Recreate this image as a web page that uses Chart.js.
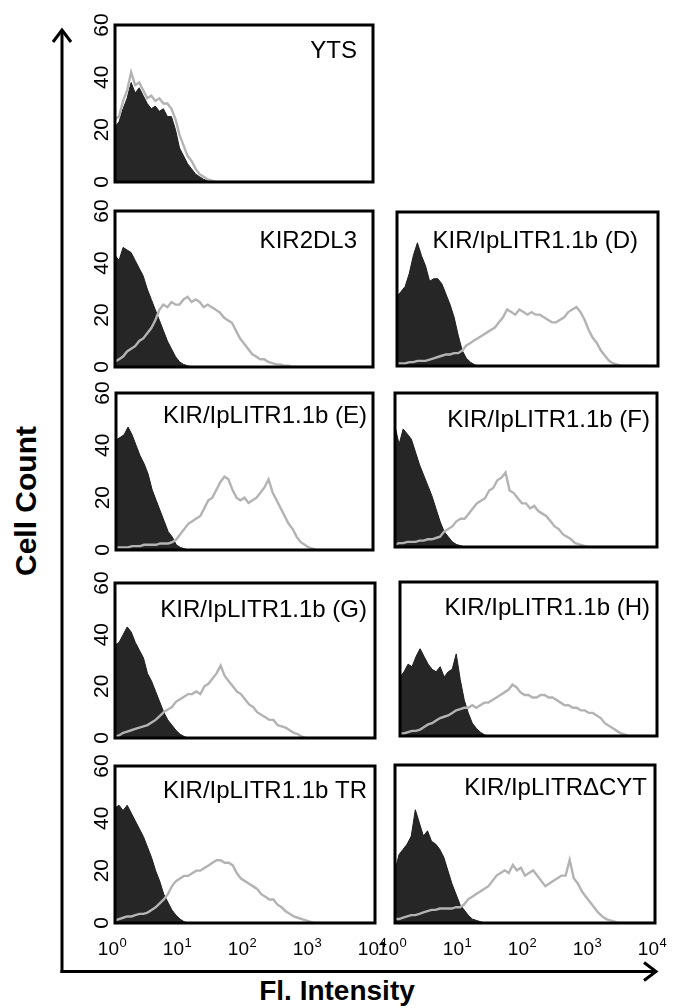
<!DOCTYPE html>
<html>
<head>
<meta charset="utf-8">
<script src="https://cdn.jsdelivr.net/npm/chart.js@4.4.1/dist/chart.umd.min.js"></script>
<style>
  html, body { margin: 0; padding: 0; background: #fff; }
  #page { position: relative; width: 673px; height: 1008px; overflow: hidden; }
  #page canvas, #page svg { position: absolute; left: 0; top: 0; }
</style>
</head>
<body>
<div id="page">
  <svg width="673" height="1008" font-family="'Liberation Sans', Arial, Helvetica, sans-serif">
    <line x1="62" y1="973" x2="62" y2="30" stroke="#000" stroke-width="3"/>
    <polyline points="53,42 62,30 71,42" fill="none" stroke="#000" stroke-width="3"/>
    <line x1="60.5" y1="971.5" x2="656" y2="971.5" stroke="#000" stroke-width="3"/>
    <polyline points="644,962.5 656,971.5 644,980.5" fill="none" stroke="#000" stroke-width="3"/>
    <text transform="translate(36,501) rotate(-90)" text-anchor="middle" font-size="30" font-weight="bold">Cell Count</text>
    <text x="337" y="1000" text-anchor="middle" font-size="28" font-weight="bold">Fl. Intensity</text>
  </svg>
</div>
<script>
// canaux (256 canaux, 4 par classe) et graduations
const channels = [0, 4, 8, 12, 16, 20, 24, 28, 32, 36, 40, 44, 48, 52, 56, 60,
  64, 68, 72, 76, 80, 84, 88, 92, 96, 100, 104, 108, 112, 116, 120, 124,
  128, 132, 136, 140, 144, 148, 152, 156, 160, 164, 168, 172, 176, 180, 184, 188,
  192, 196, 200, 204, 208, 212, 216, 220, 224, 228, 232, 236, 240, 244, 248, 252];
const xTickValues = [0, 64, 128, 192, 256];
const xTickExps = ['0', '1', '2', '3', '4'];
const yTickValues = [0, 20, 40, 60];

const labels = ['YTS', 'KIR2DL3', 'KIR/IpLITR1.1b (D)', 'KIR/IpLITR1.1b (E)', 'KIR/IpLITR1.1b (F)',
  'KIR/IpLITR1.1b (G)', 'KIR/IpLITR1.1b (H)', 'KIR/IpLITR1.1b TR', 'KIR/IpLITR\u0394CYT'];

// histogrammes : contrôle (noir) et marquage (gris)
const ytsBlack = [21, 23, 28, 32, 38, 34, 36, 33, 30, 28, 29, 27, 28, 25, 25, 20,
  13, 10, 7, 5, 3, 2, 1, 0.5, 0, 0, 0, 0, 0, 0, 0, 0,
  0, 0, 0, 0, 0, 0, 0, 0, 0, 0, 0, 0, 0, 0, 0, 0,
  0, 0, 0, 0, 0, 0, 0, 0, 0, 0, 0, 0, 0, 0, 0, 0];
const ytsGrey = [24, 25, 31, 35, 42, 37, 38, 35, 32, 33, 31, 32, 30, 30, 28, 24,
  18, 14, 10, 8, 5, 3, 2, 1, 0.5, 0, 0, 0, 0, 0, 0, 0,
  0, 0, 0, 0, 0, 0, 0, 0, 0, 0, 0, 0, 0, 0, 0, 0,
  0, 0, 0, 0, 0, 0, 0, 0, 0, 0, 0, 0, 0, 0, 0, 0];

const kirBlack = [43, 41, 46, 45, 44, 41, 38, 35, 30, 26, 22, 18, 14, 10, 7, 4,
  2, 1, 0.5, 0, 0, 0, 0, 0, 0, 0, 0, 0, 0, 0, 0, 0,
  0, 0, 0, 0, 0, 0, 0, 0, 0, 0, 0, 0, 0, 0, 0, 0,
  0, 0, 0, 0, 0, 0, 0, 0, 0, 0, 0, 0, 0, 0, 0, 0];
const kirGrey = [2, 3, 4, 6, 7, 8, 10, 11, 13, 15, 18, 22, 24, 23, 25, 24,
  24, 26, 27, 25, 26, 25, 23, 24, 23, 22, 21, 19, 18, 17, 14, 11,
  9, 7, 5, 4, 3, 3, 2, 1.5, 1, 1, 0.5, 0.5, 0, 0, 0, 0,
  0, 0, 0, 0, 0, 0, 0, 0, 0, 0, 0, 0, 0, 0, 0, 0];

const dBlack = [27, 29, 31, 36, 43, 48, 43, 39, 33, 34, 34, 32, 28, 24, 19, 12,
  6, 3, 1.5, 0.5, 0, 0, 0, 0, 0, 0, 0, 0, 0, 0, 0, 0,
  0, 0, 0, 0, 0, 0, 0, 0, 0, 0, 0, 0, 0, 0, 0, 0,
  0, 0, 0, 0, 0, 0, 0, 0, 0, 0, 0, 0, 0, 0, 0, 0];
const dGrey = [1, 1, 1, 1.5, 1.5, 2, 2, 2, 2.5, 3, 3.5, 4, 4.5, 4.5, 5, 5,
  6, 8, 9, 10, 11, 12, 13, 14, 15, 17, 19, 22, 21, 20, 22, 21,
  20, 21, 20, 20, 19, 18, 17, 17, 18, 19, 21, 22, 23, 21, 18, 14,
  11, 9, 6, 4, 2, 1, 0.5, 0, 0, 0, 0, 0, 0, 0, 0, 0];

const eBlack = [42, 43, 44, 47, 44, 40, 36, 33, 29, 23, 19, 15, 11, 7, 5, 2,
  1, 0.5, 0, 0, 0, 0, 0, 0, 0, 0, 0, 0, 0, 0, 0, 0,
  0, 0, 0, 0, 0, 0, 0, 0, 0, 0, 0, 0, 0, 0, 0, 0,
  0, 0, 0, 0, 0, 0, 0, 0, 0, 0, 0, 0, 0, 0, 0, 0];
const eGrey = [1, 1, 1, 1, 1.5, 1.5, 1.5, 2, 2, 2, 2, 2.5, 2.5, 2.5, 3, 4,
  6, 8, 10, 11, 12, 13, 16, 19, 20, 23, 26, 28, 27, 23, 20, 19,
  20, 18, 19, 20, 22, 24, 27, 22, 19, 16, 13, 10, 8, 5, 3, 2,
  1, 0.5, 0, 0, 0, 0, 0, 0, 0, 0, 0, 0, 0, 0, 0, 0];

const fBlack = [47, 40, 46, 44, 42, 37, 32, 28, 24, 20, 15, 10, 6, 4, 2, 1,
  0.5, 0, 0, 0, 0, 0, 0, 0, 0, 0, 0, 0, 0, 0, 0, 0,
  0, 0, 0, 0, 0, 0, 0, 0, 0, 0, 0, 0, 0, 0, 0, 0,
  0, 0, 0, 0, 0, 0, 0, 0, 0, 0, 0, 0, 0, 0, 0, 0];
const fGrey = [1, 1.5, 1.5, 2, 2, 2, 2.5, 2.5, 3, 3, 3.5, 4, 6, 7, 8, 10,
  11, 11, 13, 15, 17, 18, 19, 22, 23, 26, 27, 29, 22, 21, 19, 17,
  17, 15, 16, 14, 13, 12, 10, 8, 7, 5, 4, 3, 1.5, 1, 0.5, 0,
  0, 0, 0, 0, 0, 0, 0, 0, 0, 0, 0, 0, 0, 0, 0, 0];

const gBlack = [36, 37, 40, 43, 41, 37, 34, 31, 25, 22, 18, 14, 10, 7, 5, 3,
  1.5, 0.6, 0, 0, 0, 0, 0, 0, 0, 0, 0, 0, 0, 0, 0, 0,
  0, 0, 0, 0, 0, 0, 0, 0, 0, 0, 0, 0, 0, 0, 0, 0,
  0, 0, 0, 0, 0, 0, 0, 0, 0, 0, 0, 0, 0, 0, 0, 0];
const gGrey = [0.5, 1, 2, 2.5, 3, 3.5, 4, 4.5, 5, 6, 7, 8.5, 10, 11, 12, 14,
  15, 16, 17, 17, 18, 17, 20, 21, 23, 25, 28, 24, 22, 20, 18, 17,
  15, 13, 12, 10, 9, 8, 7, 7, 5, 4.5, 4, 3, 2, 1.5, 0.5, 0,
  0, 0, 0, 0, 0, 0, 0, 0, 0, 0, 0, 0, 0, 0, 0, 0];

const hBlack = [23, 25, 28, 27, 31, 34, 31, 28, 26, 25, 27, 23, 25, 26, 32, 22,
  14, 9, 5, 3, 1.5, 0.5, 0, 0, 0, 0, 0, 0, 0, 0, 0, 0,
  0, 0, 0, 0, 0, 0, 0, 0, 0, 0, 0, 0, 0, 0, 0, 0,
  0, 0, 0, 0, 0, 0, 0, 0, 0, 0, 0, 0, 0, 0, 0, 0];
const hGrey = [1, 1, 1.5, 2, 2, 2.5, 3.5, 4.5, 5, 6, 7, 7.5, 8, 9, 10, 10.5,
  11, 11, 12, 11, 12, 13, 13, 14, 15, 16, 17, 18, 20, 19, 17, 16,
  16, 15, 15, 16, 16, 15, 15, 14, 13, 12, 12, 11, 11, 10, 10, 9,
  9, 8, 7, 5, 4, 3, 2, 1, 0.5, 0, 0, 0, 0, 0, 0, 0];

const trBlack = [44, 45, 43, 45, 42, 39, 36, 33, 29, 25, 20, 16, 11, 8, 5, 3,
  1.5, 0.5, 0, 0, 0, 0, 0, 0, 0, 0, 0, 0, 0, 0, 0, 0,
  0, 0, 0, 0, 0, 0, 0, 0, 0, 0, 0, 0, 0, 0, 0, 0,
  0, 0, 0, 0, 0, 0, 0, 0, 0, 0, 0, 0, 0, 0, 0, 0];
const trGrey = [1, 1.5, 2, 2.5, 2.5, 3, 3.5, 3.5, 4, 5, 6, 7.5, 9, 11, 14, 16,
  17, 18, 18, 19, 20, 20, 21, 22, 23, 24, 24, 23, 23, 22, 19, 17,
  16, 15, 14, 13, 11, 10, 9, 9, 7, 6, 4.5, 3.5, 2.5, 2, 1.5, 1,
  0.5, 0, 0, 0, 0, 0, 0, 0, 0, 0, 0, 0, 0, 0, 0, 0];

const cytBlack = [20, 26, 28, 30, 33, 43, 38, 33, 35, 31, 30, 28, 25, 20, 15, 11,
  7, 5, 3, 1.5, 1, 0.5, 0, 0, 0, 0, 0, 0, 0, 0, 0, 0,
  0, 0, 0, 0, 0, 0, 0, 0, 0, 0, 0, 0, 0, 0, 0, 0,
  0, 0, 0, 0, 0, 0, 0, 0, 0, 0, 0, 0, 0, 0, 0, 0];
const cytGrey = [1.5, 1.5, 2, 2.5, 3, 3, 3.5, 4, 4.5, 5, 5, 5.5, 5.5, 5.5, 5.5, 6,
  6, 7, 9, 10, 11, 12, 13, 14, 16, 18, 19, 20, 19, 22, 20, 21,
  18, 19, 20, 18, 16, 14, 15, 16, 17, 18, 18, 24, 17, 15, 12, 10,
  8, 6, 4, 2.5, 1.5, 1, 0.5, 0, 0, 0, 0, 0, 0, 0, 0, 0];

// mise en page : cadre [gauche, haut, droite, bas], position du libellé
const panels = [
  { black: ytsBlack, grey: ytsGrey, label: labels[0], frame: [115, 25, 373, 182], pad: 16, dy: 33, yTicks: true },
  { black: kirBlack, grey: kirGrey, label: labels[1], frame: [115, 211, 373, 367], pad: 16, dy: 37, yTicks: true },
  { black: dBlack, grey: dGrey, label: labels[2], frame: [397, 212, 658, 366], pad: 20, dy: 36 },
  { black: eBlack, grey: eGrey, label: labels[3], frame: [116, 393, 373, 550], pad: 6, dy: 30, yTicks: true },
  { black: fBlack, grey: fGrey, label: labels[4], frame: [395, 393, 657, 547], pad: 7, dy: 34 },
  { black: gBlack, grey: gGrey, label: labels[5], frame: [115, 583, 375, 738], pad: 8, dy: 34, yTicks: true },
  { black: hBlack, grey: hGrey, label: labels[6], frame: [400, 582, 657, 736], pad: 7, dy: 33 },
  { black: trBlack, grey: trGrey, label: labels[7], frame: [115, 766, 375, 923], pad: 8, dy: 32, yTicks: true, xTicks: true },
  { black: cytBlack, grey: cytGrey, label: labels[8], frame: [395, 765, 655, 923], pad: 8, dy: 30, xTicks: true }
];

const FONT = "'Liberation Sans', Arial, Helvetica, sans-serif";

// cadre, libellé et graduations dessinés à partir des échelles
const panelDecor = {
  id: 'panelDecor',
  afterDatasetsDraw(chart, args, opts) {
    const ctx = chart.ctx;
    const a = chart.chartArea;
    ctx.save();
    ctx.strokeStyle = '#000';
    ctx.lineWidth = 3;
    ctx.strokeRect(a.left, a.top, a.right - a.left, a.bottom - a.top);

    ctx.fillStyle = '#000';
    ctx.font = '24px ' + FONT;
    ctx.textAlign = 'right';
    ctx.textBaseline = 'alphabetic';
    ctx.fillText(opts.label, a.right - opts.pad, a.top + opts.dy);

    if (opts.yTicks) {
      ctx.font = '21px ' + FONT;
      ctx.textAlign = 'center';
      ctx.textBaseline = 'middle';
      yTickValues.forEach(v => {
        const py = chart.scales.y.getPixelForValue(v);
        ctx.save();
        ctx.translate(a.left - 13, py);
        ctx.rotate(-Math.PI / 2);
        ctx.fillText(String(v), 0, 0);
        ctx.restore();
      });
    }

    if (opts.xTicks) {
      ctx.textAlign = 'left';
      ctx.textBaseline = 'alphabetic';
      xTickValues.forEach((v, i) => {
        const px = chart.scales.x.getPixelForValue(v) - 3;
        ctx.font = '19px ' + FONT;
        const wBase = ctx.measureText('10').width;
        ctx.font = '13px ' + FONT;
        const wExp = ctx.measureText(xTickExps[i]).width;
        const x0 = px - (wBase + wExp) / 2;
        ctx.font = '19px ' + FONT;
        ctx.fillText('10', x0, 955);
        ctx.font = '13px ' + FONT;
        ctx.fillText(xTickExps[i], x0 + wBase + 0.5, 947);
      });
    }
    ctx.restore();
  }
};

const page = document.getElementById('page');
const W = 673, H = 1008;

panels.forEach(p => {
  const canvas = document.createElement('canvas');
  canvas.width = W;
  canvas.height = H;
  page.appendChild(canvas);
  const [l, t, r, b] = p.frame;
  new Chart(canvas.getContext('2d'), {
    type: 'line',
    data: {
      datasets: [{
        data: channels.map((c, i) => ({ x: c, y: p.grey[i] })),
        borderColor: '#b3b3b3',
        borderWidth: 2.4,
        fill: false,
        order: 0
      }, {
        data: channels.map((c, i) => ({ x: c, y: p.black[i] })),
        borderColor: '#1e1e1e',
        backgroundColor: '#262626',
        borderWidth: 1,
        fill: 'origin',
        order: 1
      }]
    },
    options: {
      responsive: false,
      animation: false,
      events: [],
      layout: { padding: { left: l, top: t, right: W - r, bottom: H - b } },
      elements: { point: { radius: 0 }, line: { tension: 0 } },
      scales: {
        x: { type: 'linear', min: 0, max: 256, display: false },
        y: { type: 'linear', min: 0, max: 60, display: false }
      },
      plugins: {
        legend: { display: false },
        tooltip: { enabled: false },
        panelDecor: { label: p.label, pad: p.pad, dy: p.dy, yTicks: !!p.yTicks, xTicks: !!p.xTicks }
      }
    },
    plugins: [panelDecor]
  });
});
</script>
</body>
</html>
